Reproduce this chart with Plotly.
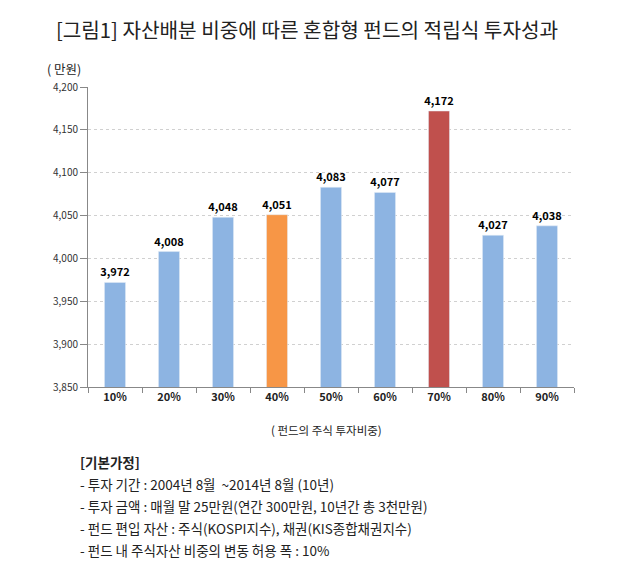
import plotly.graph_objects as go

categories = ["10%", "20%", "30%", "40%", "50%", "60%", "70%", "80%", "90%"]
values = [3972, 4008, 4048, 4051, 4083, 4077, 4172, 4027, 4038]
colors = ["#8DB4E2", "#8DB4E2", "#8DB4E2", "#F79646", "#8DB4E2", "#8DB4E2", "#C0504D", "#8DB4E2", "#8DB4E2"]
tick_vals = [3850, 3900, 3950, 4000, 4050, 4100, 4150, 4200]
title_text = "[그림1] 자산배분 비중에 따른 혼합형 펀드의 적립식 투자성과"
y_unit = "( 만원)"
x_title = "( 펀드의 주식 투자비중)"
notes = [
    "<b>[기본가정]</b>",
    "- 투자 기간 : 2004년 8월  ~2014년 8월 (10년)",
    "- 투자 금액 : 매월 말 25만원(연간 300만원, 10년간 총 3천만원)",
    "- 펀드 편입 자산 : 주식(KOSPI지수), 채권(KIS종합채권지수)",
    "- 펀드 내 주식자산 비중의 변동 허용 폭 : 10%",
]

FONT = "Noto Sans CJK KR"
W, H = 630, 573
L, R, T, B = 88, 56, 87, 186
PW, PH = W - L - R, H - T - B

fig = go.Figure(go.Bar(
    x=categories, y=values, marker_color=colors, width=0.39,
    text=[f"{v:,}" for v in values], textposition="outside",
    constraintext="none",
    textfont=dict(size=11, color="#000000", family=FONT, weight="bold"),
    cliponaxis=False,
))

fig.update_layout(
    width=W, height=H,
    margin=dict(l=L, r=R, t=T, b=B),
    paper_bgcolor="white", plot_bgcolor="white",
    showlegend=False,
    font=dict(family=FONT, color="#000000"),
    title=dict(text=title_text, x=307 / W, xanchor="center", y=1 - 31 / H, yanchor="middle",
               font=dict(size=20.2, family=FONT, color="#222222")),
)
fig.update_yaxes(
    range=[3850, 4200], tickvals=tick_vals, tickformat=",",
    showgrid=True, gridcolor="#D0D0D0", griddash="dot", gridwidth=1,
    showline=True, linecolor="#888888", linewidth=1,
    ticks="outside", ticklen=7, tickcolor="#888888",
    tickfont=dict(size=10, family=FONT, color="#333333"),
    zeroline=False,
)
fig.update_xaxes(
    showline=True, linecolor="#888888", linewidth=1,
    ticks="outside", ticklen=5, tickcolor="#888888", tickson="boundaries",
    tickfont=dict(size=11, family=FONT, color="#222222", weight="bold"),
    showgrid=False,
)

fig.add_annotation(text=y_unit, xref="paper", yref="paper", x=(45 - L) / PW, y=(T - 68) / PH + 1,
                   xanchor="left", yanchor="middle", showarrow=False,
                   font=dict(size=12.5, family=FONT, color="#222222"))
fig.add_annotation(text=x_title, xref="paper", yref="paper", x=(326 - L) / PW, y=(387 - 430) / PH,
                   xanchor="center", yanchor="middle", showarrow=False,
                   font=dict(size=11.5, family=FONT, color="#222222"))

note_y = [462, 484, 506, 528, 550]
for line, y_px in zip(notes, note_y):
    fig.add_annotation(text=line, xref="paper", yref="paper", x=(78 - L) / PW,
                       y=(387 - y_px) / PH, xanchor="left", yanchor="middle",
                       showarrow=False, font=dict(size=13.5, family=FONT, color="#222222"))

fig.write_html("out.html", config={"displayModeBar": False},
               post_script="document.body.style.margin='0';")
